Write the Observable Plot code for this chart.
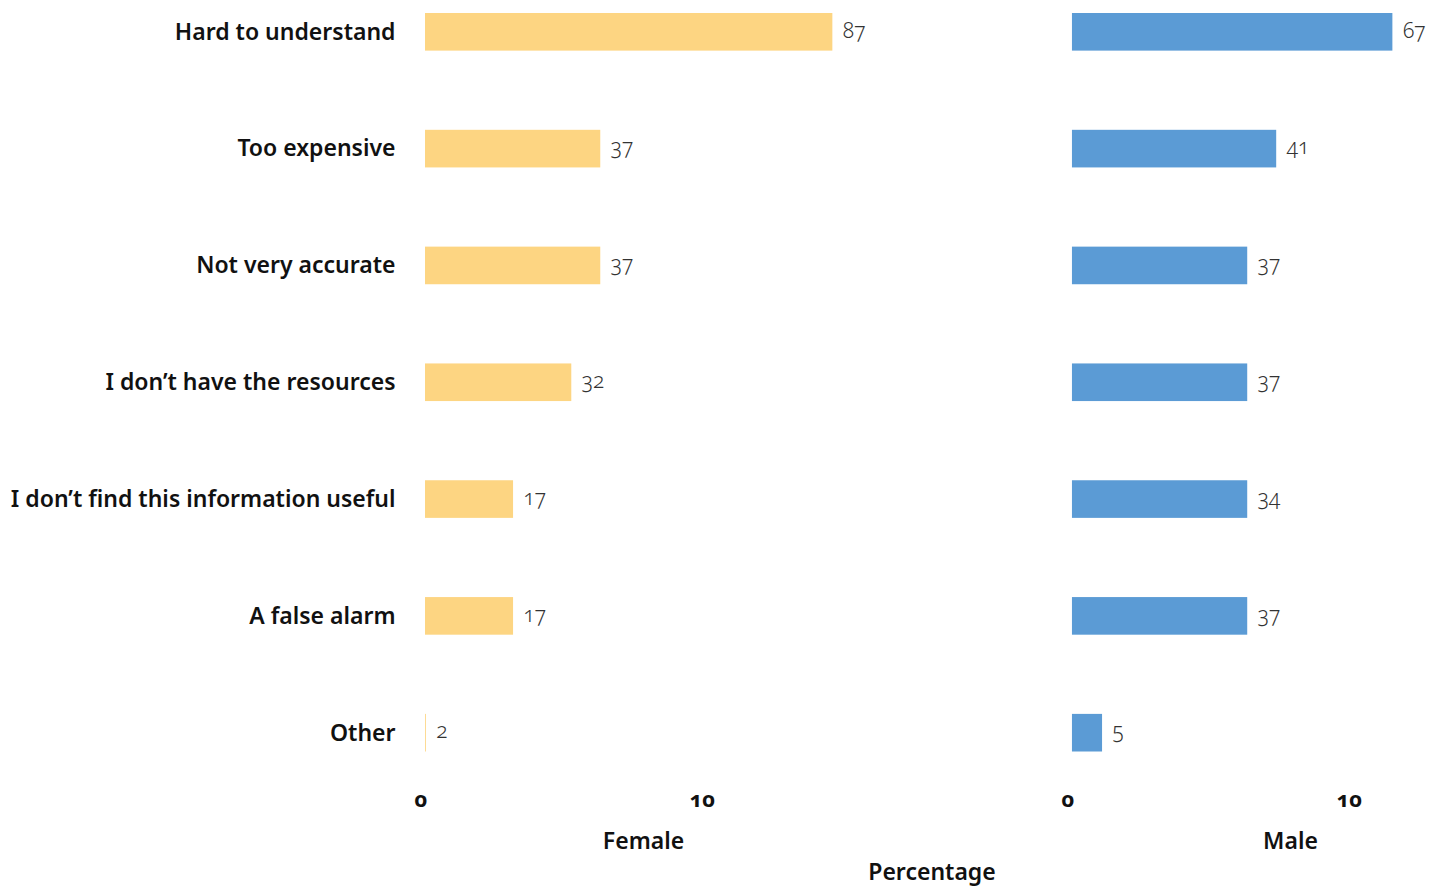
<!DOCTYPE html>
<html>
<head>
<meta charset="utf-8">
<script src="https://cdn.jsdelivr.net/npm/d3@7"></script>
<script src="https://cdn.jsdelivr.net/npm/@observablehq/plot@0.6"></script>
<style>
  body { margin: 0; background: #fff; }
  #wrap { position: relative; width: 1443px; height: 888px; overflow: hidden; background: #fff; }
  #chart svg text { font-variant-numeric: oldstyle-nums; }
  #xlabel { position: absolute; left: 932px; top: 857px; transform: translateX(-50%);
            font: 600 23px "Noto Sans", sans-serif; line-height: 28px; color: #111; white-space: nowrap; }
</style>
</head>
<body>
<div id="wrap"><div id="chart"></div><div id="xlabel"></div></div>
<script>
const reasons = [
  "Hard to understand",
  "Too expensive",
  "Not very accurate",
  "I don’t have the resources",
  "I don’t find this information useful",
  "A false alarm",
  "Other"
];
const genders = ["Female", "Male"];
// bar lengths as read against the x axis
const femaleValues = [14.48, 6.23, 6.23, 5.20, 3.13, 3.13, 0.03];
const maleValues = [11.39, 7.26, 6.23, 6.23, 6.23, 6.23, 1.07];
// printed value labels
const femaleLabels = ["87", "37", "37", "32", "17", "17", "2"];
const maleLabels = ["67", "41", "37", "37", "34", "37", "5"];
const xTicks = [0, 10];
const genderColors = ["#FDD582", "#5B9BD5"];
const xTitle = "Percentage";

const rows = [];
reasons.forEach((r, i) => {
  rows.push({gender: genders[0], reason: r, value: femaleValues[i], label: femaleLabels[i]});
  rows.push({gender: genders[1], reason: r, value: maleValues[i], label: maleLabels[i]});
});

const font = "'Noto Sans', sans-serif";
const chart = Plot.plot({
  width: 1443,
  height: 857,
  marginLeft: 425,
  marginRight: 4,
  marginTop: 13,
  marginBottom: 105.5,
  style: {fontFamily: font, background: "white", color: "#111"},
  fx: {domain: genders, range: [425, 1508], paddingInner: 0.326, paddingOuter: 0, round: false, label: null},
  x: {domain: [0, 15.5], round: false, label: null},
  y: {domain: reasons, paddingInner: 0.678, paddingOuter: 0, round: false, label: null},
  color: {domain: genders, range: genderColors},
  marks: [
    Plot.barX(rows, {fx: "gender", y: "reason", x: "value", fill: "gender"}),
    Plot.text(rows, {fx: "gender", y: "reason", x: "value", text: "label", textAnchor: "start",
      dx: 10, dy: -1.5, fontSize: 21, fontWeight: 300, fill: "#333"}),
    Plot.axisY({tickSize: 0, tickPadding: 30, fontSize: 23, fontWeight: 600, label: null}),
    Plot.axisX({ticks: xTicks, tickSize: 0, tickPadding: 39, dx: -4.5, fontSize: 22, fontWeight: 700, label: null}),
    Plot.axisFx({anchor: "bottom", tickSize: 0, tickPadding: 81, fontSize: 23, fontWeight: 600, label: null})
  ]
});
document.getElementById("chart").appendChild(chart);
document.getElementById("xlabel").textContent = xTitle;
</script>
</body>
</html>
